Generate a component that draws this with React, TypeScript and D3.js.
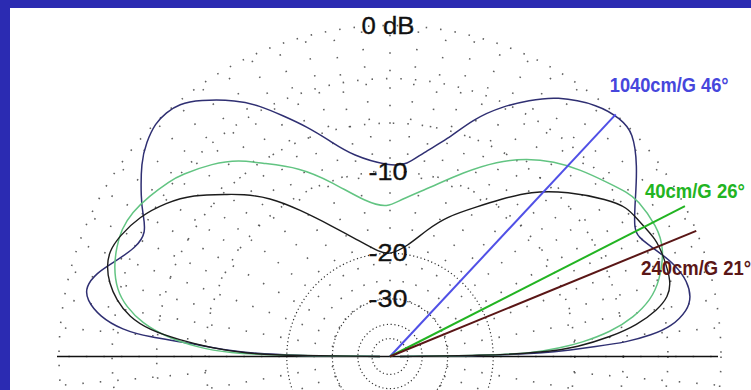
import React, { useEffect, useRef } from "react";
import * as d3 from "d3";

const W = 751;
const H = 390;

// angle in degrees from the right horizon (0) over the top to the left horizon (180)
const NAVY_ANGLES = [0, 0.5, 1.3, 2.1, 2.7, 3.5, 4.7, 6, 8.9, 11.2, 14.1, 17.8, 21.4, 23.5, 25.5, 27.5, 32.6, 37.6, 42.7, 45.9, 50.3, 57.5, 61.5, 65.7, 70.7, 75.3, 80.8, 84.9, 90, 100.5, 105.6, 109.9, 114, 117.5, 120.9, 126.6, 129.9, 132.5, 135.2, 138.7, 142, 147.7, 149.8, 153.1, 156.8, 161.4, 164.1, 167.1, 169.4, 172.2, 174.3, 175.4, 176.1, 178.7, 179.5, 180];
const NAVY_DB = [-60, -22, -13, -10.4, -8.3, -5.65, -4, -2.7, -1.6, -1.3, -1.3, -1.7, -2.4, -2.8, -3.1, -3.2, -2.2, -1, 0, 0, -0.2, -1.2, -2.2, -3.2, -4.7, -6.7, -8.1, -9.3, -9.5, -8.3, -6.7, -5.2, -3.9, -2.7, -1.75, -0.6, -0.1, 0, 0, -0.35, -0.8, -2, -2.5, -3.3, -3.1, -2.1, -1.4, -1, -1.2, -2.1, -3.55, -5.4, -8.5, -13.5, -22, -60];

const GREEN_ANGLES = [0, 0.5, 1.5, 2.9, 4.1, 6.35, 9.2, 12.3, 15.5, 21.3, 26, 32.4, 34.6, 38.6, 44.5, 50, 55.3, 61.2, 68.3, 76.6, 86.3, 90.8, 98.5, 108.2, 115.5, 124, 127.4, 132.5, 139.1, 141.3, 146.4, 150.8, 154.7, 158.1, 162, 166.3, 169.3, 172.3, 175, 177.2, 178.8, 179.5, 180];
const GREEN_DB = [-60, -22, -14, -11.4, -9.4, -6.85, -5, -3.7, -2.9, -2, -1.85, -2.1, -2.35, -2.95, -3.7, -4.5, -5.45, -6.8, -8.8, -11.05, -12.8, -13.7, -12.95, -10.15, -7.85, -6, -5.0, -4.0, -3.05, -2.8, -2.3, -1.95, -1.85, -2, -2.25, -2.8, -3.6, -4.8, -6.65, -9.2, -12.1, -20, -60];

const BLACK_ANGLES = [0, 0.5, 1.5, 2.9, 5.1, 7.3, 9.9, 12.1, 14.9, 20, 23.7, 28.9, 32.1, 35.8, 42.9, 49.6, 54.9, 59.8, 67.8, 73.7, 81.2, 90, 95.5, 105.8, 113.8, 121.6, 127.1, 132.5, 134.7, 140.7, 145.5, 150.8, 156.1, 159.5, 162.4, 165.3, 168.3, 171.4, 173.7, 175.5, 177.3, 178.8, 179.5, 180];
const BLACK_DB = [-60, -22, -13, -9.7, -6.9, -4.85, -3.4, -2.6, -2.2, -2.2, -2.2, -2.7, -2.85, -3.6, -5.35, -7.25, -9.35, -11.1, -13.45, -15.75, -18.7, -20.2, -19.8, -17.2, -14.5, -11.2, -8.7, -7, -6.4, -4.45, -3.4, -2.45, -1.9, -1.7, -1.85, -2.25, -2.9, -3.9, -5.35, -7.7, -10.7, -14, -22, -60];

const OUTER_RINGS_DB = [0, -3, -6, -10];
const INNER_RINGS_DB = [-20, -30, -40, -50];
const RING_LABEL_DB = [0, -10, -20, -30];
const RING_LABELS = ["0 dB", "-10", "-20", "-30"];

const RAY_ANGLES = [47, 27, 22.3];
const RAY_LABELS = ["1040cm/G 46°", "40cm/G 26°", "240cm/G 21°"];

function renderChart(svgEl: SVGSVGElement) {
  const svg = d3.select(svgEl);
  svg.selectAll("*").remove();

  const cx = 390;
  const cy = 356.5;
  const R = 331;
  const font = "'Liberation Sans', Arial, sans-serif";

  // ARRL log-periodic scale: each 2 dB shrinks the radius by 0.89
  const rScale = d3.scalePow().exponent(-10 * Math.log10(0.89) / 2).domain([0, 1]).range([0, R]);
  const r = (db: number) => rScale(Math.pow(10, db / 10));
  const rad = (deg: number) => (deg * Math.PI) / 180;

  svg.append("rect").attr("width", W).attr("height", H).attr("fill", "#2b2bb2");
  svg.append("rect").attr("x", 10).attr("y", 8).attr("width", W - 10).attr("height", H - 8).attr("fill", "#ffffff");

  svg.append("defs").append("clipPath").attr("id", "panel")
    .append("rect").attr("x", 10).attr("y", 8).attr("width", W - 10).attr("height", H - 8);

  const g = svg.append("g").attr("clip-path", "url(#panel)")
    .append("g").attr("transform", `translate(${cx},${cy})`);

  // grid
  const grid = g.append("g").attr("fill", "none").attr("stroke", "#444");
  grid.selectAll("circle.outer").data(OUTER_RINGS_DB).join("circle")
    .attr("class", "outer").attr("r", d => r(d))
    .attr("stroke-width", 1.6).attr("stroke-dasharray", "1.5 13").attr("stroke-opacity", 0.85);
  grid.selectAll("circle.inner").data(INNER_RINGS_DB).join("circle")
    .attr("class", "inner").attr("r", d => r(d))
    .attr("stroke", "#333").attr("stroke-width", 1.2).attr("stroke-dasharray", "1.2 2.6");

  const spokes10 = d3.range(0, 360, 10);
  const spokes5 = d3.range(5, 360, 10);
  grid.selectAll("line.s10").data(spokes10).join("line")
    .attr("class", "s10")
    .attr("x1", d => r(-30) * Math.cos(rad(d))).attr("y1", d => -r(-30) * Math.sin(rad(d)))
    .attr("x2", d => R * Math.cos(rad(d))).attr("y2", d => -R * Math.sin(rad(d)))
    .attr("stroke-width", 1.6).attr("stroke-dasharray", "1.5 16").attr("stroke-opacity", 0.85);
  grid.selectAll("line.s5").data(spokes5).join("line")
    .attr("class", "s5")
    .attr("x1", d => r(-10) * Math.cos(rad(d))).attr("y1", d => -r(-10) * Math.sin(rad(d)))
    .attr("x2", d => R * Math.cos(rad(d))).attr("y2", d => -R * Math.sin(rad(d)))
    .attr("stroke-width", 1.6).attr("stroke-dasharray", "1.5 16").attr("stroke-opacity", 0.85);

  // horizon
  g.append("line").attr("x1", -333).attr("x2", 328).attr("y1", 0).attr("y2", 0)
    .attr("stroke", "#111").attr("stroke-width", 1.5);

  // patterns
  const line = d3.lineRadial<[number, number]>()
    .angle(d => rad(90 - d[0]))
    .radius(d => r(d[1]))
    .curve(d3.curveBasis);

  const series = [
    { a: NAVY_ANGLES, v: NAVY_DB, color: "#2f2f72", w: 1.5 },
    { a: GREEN_ANGLES, v: GREEN_DB, color: "#62c482", w: 1.5 },
    { a: BLACK_ANGLES, v: BLACK_DB, color: "#1c1c1c", w: 1.4 },
  ];
  series.forEach(s => {
    const pts = s.a.map((a, i) => [a, s.v[i]] as [number, number]);
    g.append("path").attr("d", line(pts)).attr("fill", "none")
      .attr("stroke", s.color).attr("stroke-width", s.w).attr("stroke-linejoin", "round");
  });

  // rays at the angle of maximum radiation, labels squeezed to a narrow face
  const rayColors = ["#5050e6", "#22b422", "#5a1616"];
  const labelColors = ["#4646dc", "#22b422", "#5a1616"];
  const labelOffsets = [[-6, -22, 119], [-40, -8, 100], [-55, 44, 110]];
  RAY_ANGLES.forEach((a, i) => {
    const x2 = R * Math.cos(rad(a));
    const y2 = -R * Math.sin(rad(a));
    g.append("line").attr("x1", 0).attr("y1", 0).attr("x2", x2).attr("y2", y2)
      .attr("stroke", rayColors[i]).attr("stroke-width", 2);
    const [dx, dy, len] = labelOffsets[i];
    const t = g.append("text")
      .attr("font-family", font).attr("font-size", 21).attr("font-weight", "bold")
      .attr("fill", labelColors[i])
      .text(RAY_LABELS[i]);
    const natural = (t.node() as SVGTextElement).getComputedTextLength() || len;
    t.attr("transform", `translate(${x2 + dx},${y2 + dy}) scale(${len / natural},1)`);
  });

  // ring labels
  RING_LABEL_DB.forEach((db, i) => {
    g.append("text").attr("x", -2).attr("y", -r(db) + 8)
      .attr("text-anchor", "middle").attr("font-family", font).attr("font-size", 23)
      .attr("fill", "#111").attr("stroke", "#111").attr("stroke-width", 0.3)
      .attr("textLength", i === 0 ? 53 : 39).attr("lengthAdjust", "spacingAndGlyphs")
      .text(RING_LABELS[i]);
  });
}

export default function App() {
  const svgRef = useRef<SVGSVGElement>(null);
  useEffect(() => {
    if (svgRef.current) renderChart(svgRef.current);
  }, []);
  return (
    <div style={{ position: "fixed", left: 0, top: 0, width: W, height: H, overflow: "hidden" }}>
      <svg ref={svgRef} width={W} height={H} style={{ display: "block" }} />
    </div>
  );
}
